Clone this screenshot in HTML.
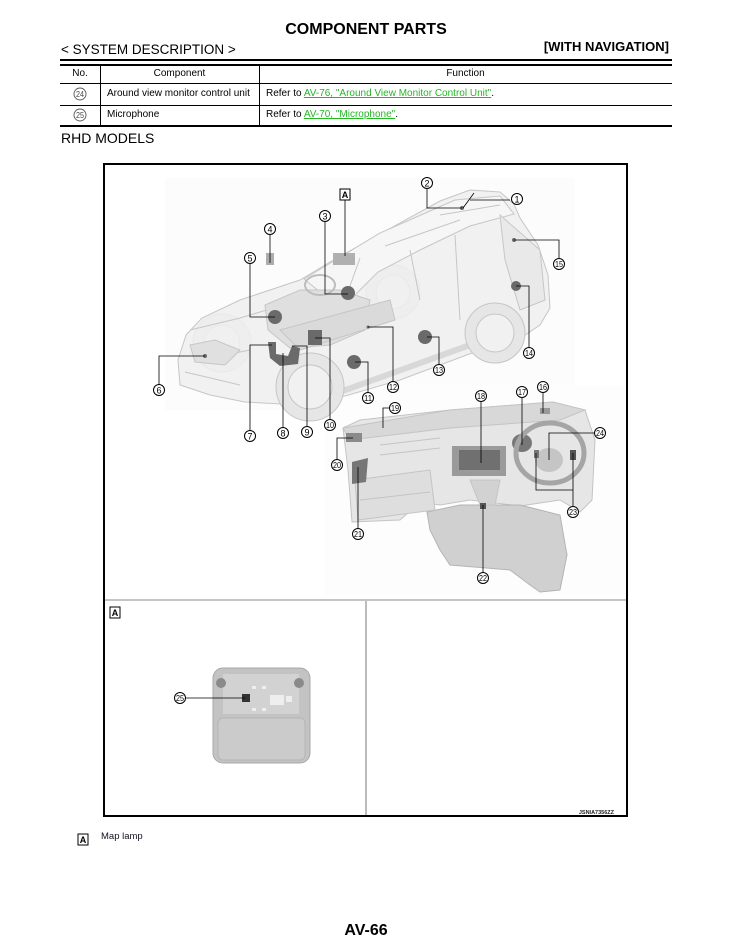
<!DOCTYPE html>
<html><head><meta charset="utf-8">
<style>
*{margin:0;padding:0;box-sizing:border-box}
body{width:732px;height:950px;background:#fff;position:relative;overflow:hidden;font-family:"Liberation Sans",Arial,sans-serif;color:#000}
.t{position:absolute;white-space:nowrap}
.ln{position:absolute;background:#000}
a{color:#22b822;text-decoration:underline}
</style></head><body>

<div class="t" style="left:0;width:732px;top:20px;text-align:center;font-weight:bold;font-size:16px;line-height:20px">COMPONENT PARTS</div>
<div class="t" style="left:61px;top:42px;font-size:13.5px;line-height:16px">&lt; SYSTEM DESCRIPTION &gt;</div>
<div class="t" style="right:63px;top:39px;font-size:13px;font-weight:bold;line-height:16px">[WITH NAVIGATION]</div>

<div class="ln" style="left:60px;top:59px;width:612px;height:2px"></div>
<div class="ln" style="left:60px;top:64px;width:612px;height:2px"></div>
<div class="ln" style="left:60px;top:83px;width:612px;height:1px"></div>
<div class="ln" style="left:60px;top:105px;width:612px;height:1px"></div>
<div class="ln" style="left:60px;top:125px;width:612px;height:2px"></div>
<div class="ln" style="left:100px;top:66px;width:1px;height:59px"></div>
<div class="ln" style="left:259px;top:66px;width:1px;height:59px"></div>

<div class="t" style="left:60px;width:40px;top:68px;text-align:center;font-size:10px;line-height:12px">No.</div>
<div class="t" style="left:100px;width:159px;top:68px;text-align:center;font-size:10px;line-height:12px">Component</div>
<div class="t" style="left:259px;width:413px;top:68px;text-align:center;font-size:10px;line-height:12px">Function</div>

<div class="t" style="left:107px;top:88px;font-size:10px;line-height:12px">Around view monitor control unit</div>
<div class="t" style="left:266px;top:88px;font-size:10px;line-height:12px">Refer to <a>AV-76, "Around View Monitor Control Unit"</a>.</div>
<div class="t" style="left:107px;top:109px;font-size:10px;line-height:12px">Microphone</div>
<div class="t" style="left:266px;top:109px;font-size:10px;line-height:12px">Refer to <a>AV-70, "Microphone"</a>.</div>

<svg style="position:absolute;left:73px;top:87px" width="14" height="14"><circle cx="7" cy="7" r="6" fill="none" stroke="#555" stroke-width="0.9"/><text x="7" y="10" font-size="8" text-anchor="middle" font-family="Liberation Sans Narrow,Liberation Sans,sans-serif" fill="#444" textLength="8" lengthAdjust="spacingAndGlyphs">24</text></svg>
<svg style="position:absolute;left:73px;top:108px" width="14" height="14"><circle cx="7" cy="7" r="6" fill="none" stroke="#555" stroke-width="0.9"/><text x="7" y="10" font-size="8" text-anchor="middle" font-family="Liberation Sans Narrow,Liberation Sans,sans-serif" fill="#444" textLength="8" lengthAdjust="spacingAndGlyphs">25</text></svg>

<div class="t" style="left:61px;top:130px;font-size:14px;line-height:17px">RHD MODELS</div>

<svg style="position:absolute;left:0;top:0" width="732" height="950" viewBox="0 0 732 950">
<rect x="104" y="164" width="523" height="652" fill="#fff" stroke="#000" stroke-width="2"/>
<line x1="105" y1="600" x2="626" y2="600" stroke="#8a8a8a" stroke-width="1"/>
<line x1="366" y1="601" x2="366" y2="815" stroke="#aaa" stroke-width="1.6"/>

<rect x="165" y="178" width="410" height="232" fill="#fcfcfc"/>
<rect x="325" y="385" width="300" height="210" fill="#fdfdfd"/>

<!-- CAR -->
<g stroke="#c6c6c6" stroke-width="1">
<circle cx="393" cy="292" r="27" fill="#ececec"/>
<circle cx="393" cy="292" r="17" fill="#f4f4f4"/>
<circle cx="222" cy="343" r="29" fill="#eaeaea"/>
<circle cx="222" cy="343" r="18" fill="#f3f3f3"/>
<path d="M180,385 L178,360 L186,335 L202,318 L240,300 L300,280 L330,262 L380,234 L440,201 L470,190 L500,192 L514,204 L520,218 L538,245 L548,275 L550,308 L540,325 L525,335 L480,350 L440,365 L400,380 L345,396 L300,405 L245,402 L210,395 Z" fill="#efefef" fill-opacity="0.85"/>
<path d="M304,279 L380,233 L455,200 L500,196 L514,214 L470,226 L420,250 L378,272 L350,300 L330,300 Z" fill="#f6f6f6"/>
<path d="M345,300 L360,258 M410,250 L420,300 M455,235 L460,320 M440,215 L500,205 M385,246 L460,220" fill="none"/>
<path d="M500,215 L540,250 L545,300 L520,310 L505,260 Z" fill="#e9e9e9"/>
<path d="M340,392 L470,345" stroke="#d8d8d8" stroke-width="6" fill="none"/>
<path d="M190,330 L240,318 L300,300 M200,360 L250,350 M185,372 L240,385" fill="none"/>
<circle cx="310" cy="387" r="34" fill="#e6e6e6"/>
<circle cx="310" cy="387" r="22" fill="#f1f1f1"/>
<circle cx="495" cy="333" r="30" fill="#e6e6e6"/>
<circle cx="495" cy="333" r="19" fill="#f1f1f1"/>
<path d="M265,305 L300,290 L340,290 L370,300 L365,330 L330,345 L290,348 L268,330 Z" fill="#dfdfdf"/>
<path d="M280,330 L390,300 L395,320 L300,350 Z" fill="#dadada"/>
<ellipse cx="320" cy="285" rx="15" ry="10" fill="none" stroke="#bdbdbd" stroke-width="2"/>
<path d="M190,345 L215,340 L240,350 L225,365 L195,362 Z" fill="#e0e0e0"/>
</g>
<g fill="#6a6a6a">
<rect x="333" y="253" width="22" height="12" fill="#b0b0b0"/>
<circle cx="348" cy="293" r="7"/>
<circle cx="275" cy="317" r="7"/>
<circle cx="354" cy="362" r="7"/>
<circle cx="425" cy="337" r="7"/>
<circle cx="516" cy="286" r="5"/>
<rect x="266" y="253" width="8" height="12" fill="#adadad"/>
<path d="M268,342 L276,342 L276,354 L288,356 L292,346 L300,348 L298,364 L280,366 L270,358 Z"/>
<rect x="308" y="330" width="14" height="15"/>
<circle cx="514" cy="240" r="2"/>
<circle cx="462" cy="208" r="2"/>
<circle cx="205" cy="356" r="2"/>
<circle cx="368" cy="327" r="1.5"/>
</g>

<!-- DASHBOARD -->
<g stroke="#c4c4c4" stroke-width="1">
<path d="M343,428 L360,420 L450,410 L553,402 L585,410 L595,440 L592,500 L580,512 L560,500 L520,506 L470,500 L440,505 L420,502 L400,520 L352,522 L348,470 Z" fill="#e6e6e6"/>
<path d="M343,428 L450,410 L553,402 L585,410 L560,420 L450,428 L350,440 Z" fill="#d8d8d8"/>
<path d="M427,512 L460,505 L520,505 L560,515 L567,555 L560,590 L540,592 L530,585 L510,570 L450,565 L440,550 L430,530 Z" fill="#d0d0d0" stroke="#b4b4b4"/>
<path d="M355,480 L430,470 L435,510 L358,520 Z" fill="#dedede"/>
<path d="M470,480 L480,505 L495,505 L500,480 Z" fill="#d2d2d2"/>
<path d="M380,445 L440,438 M380,455 L440,448 M360,500 L430,492" fill="none"/>
</g>
<rect x="452" y="446" width="54" height="30" fill="#9a9a9a"/>
<rect x="459" y="450" width="41" height="20" fill="#707070"/>
<ellipse cx="522" cy="443" rx="10" ry="9" fill="#777"/>
<ellipse cx="550" cy="453" rx="34" ry="30" fill="none" stroke="#a5a5a5" stroke-width="5"/>
<ellipse cx="549" cy="460" rx="14" ry="12" fill="#c5c5c5"/>
<rect x="570" y="450" width="6" height="10" fill="#555"/>
<rect x="534" y="450" width="5" height="8" fill="#777"/>
<rect x="346" y="433" width="16" height="9" fill="#8a8a8a"/>
<rect x="540" y="408" width="10" height="6" fill="#999"/>
<path d="M352,462 L368,458 L366,482 L352,484 Z" fill="#777"/>
<rect x="480" y="503" width="6" height="6" fill="#555"/>

<!-- MAP LAMP -->
<rect x="213" y="668" width="97" height="95" rx="10" fill="#c3c3c3" stroke="#a8a8a8"/>
<rect x="223" y="674" width="76" height="40" fill="#d2d2d2"/>
<rect x="218" y="718" width="87" height="42" rx="5" fill="#cbcbcb" stroke="#b5b5b5"/>
<circle cx="221" cy="683" r="5" fill="#8a8a8a"/>
<circle cx="299" cy="683" r="5" fill="#8a8a8a"/>
<rect x="242" y="694" width="8" height="8" fill="#333"/>
<g fill="#eee"><rect x="252" y="686" width="4" height="3"/><rect x="262" y="686" width="4" height="3"/><rect x="252" y="708" width="4" height="3"/><rect x="262" y="708" width="4" height="3"/><rect x="270" y="695" width="14" height="10"/><rect x="286" y="696" width="6" height="6"/></g>

<g stroke="#000" stroke-width="0.8" fill="none">
<path d="M510,200 H470 M474,193 L463,208"/>
<path d="M427,189 V208 H462"/>
<path d="M345,200 V256"/>
<path d="M325,222 V294 H348"/>
<path d="M270,235 V263"/>
<path d="M250,264 V317 H275"/>
<path d="M159,384 V356 H205"/>
<path d="M250,430 V345 H272"/>
<path d="M283,427 V353"/>
<path d="M307,426 V346 H292"/>
<path d="M330,419 V338 H315"/>
<path d="M368,392 V362 H355"/>
<path d="M393,381 V327 H368"/>
<path d="M439,364 V337 H427"/>
<path d="M529,347 V286 H516"/>
<path d="M559,258 V240 H514"/>
<path d="M543,393 V413"/>
<path d="M522,398 V445"/>
<path d="M481,402 V463"/>
<path d="M389,408 H383 V428"/>
<path d="M337,459 V438 H353"/>
<path d="M358,528 V467"/>
<path d="M483,572 V505"/>
<path d="M573,506 V453 M573,490 H536 V453"/>
<path d="M594,433 H549 V460"/>
<path d="M186,698 H245"/>
</g>

<g font-family="Liberation Sans Narrow,Liberation Sans,sans-serif" font-size="9" text-anchor="middle">
<g stroke="#000" stroke-width="1" fill="#fff">
<circle cx="517" cy="199" r="5.5"/><circle cx="427" cy="183" r="5.5"/><circle cx="325" cy="216" r="5.5"/>
<circle cx="270" cy="229" r="5.5"/><circle cx="250" cy="258" r="5.5"/><circle cx="159" cy="390" r="5.5"/>
<circle cx="250" cy="436" r="5.5"/><circle cx="283" cy="433" r="5.5"/><circle cx="307" cy="432" r="5.5"/>
<circle cx="330" cy="425" r="5.5"/><circle cx="368" cy="398" r="5.5"/><circle cx="393" cy="387" r="5.5"/>
<circle cx="439" cy="370" r="5.5"/><circle cx="529" cy="353" r="5.5"/><circle cx="559" cy="264" r="5.5"/>
<circle cx="543" cy="387" r="5.5"/><circle cx="522" cy="392" r="5.5"/><circle cx="481" cy="396" r="5.5"/>
<circle cx="395" cy="408" r="5.5"/><circle cx="337" cy="465" r="5.5"/><circle cx="358" cy="534" r="5.5"/>
<circle cx="483" cy="578" r="5.5"/><circle cx="573" cy="512" r="5.5"/><circle cx="600" cy="433" r="5.5"/>
<circle cx="180" cy="698" r="5.5"/>
</g>
<text x="517" y="202.5">1</text><text x="427" y="186.5">2</text><text x="325" y="219.5">3</text>
<text x="270" y="232.5">4</text><text x="250" y="261.5">5</text><text x="159" y="393.5">6</text>
<text x="250" y="439.5">7</text><text x="283" y="436.5">8</text><text x="307" y="435.5">9</text>
<g font-size="8">
<text x="330" y="428" textLength="8" lengthAdjust="spacingAndGlyphs">10</text>
<text x="368" y="401" textLength="8" lengthAdjust="spacingAndGlyphs">11</text>
<text x="393" y="390" textLength="8" lengthAdjust="spacingAndGlyphs">12</text>
<text x="439" y="373" textLength="8" lengthAdjust="spacingAndGlyphs">13</text>
<text x="529" y="356" textLength="8" lengthAdjust="spacingAndGlyphs">14</text>
<text x="559" y="267" textLength="8" lengthAdjust="spacingAndGlyphs">15</text>
<text x="543" y="390" textLength="8" lengthAdjust="spacingAndGlyphs">16</text>
<text x="522" y="395" textLength="8" lengthAdjust="spacingAndGlyphs">17</text>
<text x="481" y="399" textLength="8" lengthAdjust="spacingAndGlyphs">18</text>
<text x="395" y="411" textLength="8" lengthAdjust="spacingAndGlyphs">19</text>
<text x="337" y="468" textLength="8" lengthAdjust="spacingAndGlyphs">20</text>
<text x="358" y="537" textLength="8" lengthAdjust="spacingAndGlyphs">21</text>
<text x="483" y="581" textLength="8" lengthAdjust="spacingAndGlyphs">22</text>
<text x="573" y="515" textLength="8" lengthAdjust="spacingAndGlyphs">23</text>
<text x="600" y="436" textLength="8" lengthAdjust="spacingAndGlyphs">24</text>
<text x="180" y="701" textLength="8" lengthAdjust="spacingAndGlyphs">25</text>
</g>
</g>

<g font-family="Liberation Sans,sans-serif" font-weight="bold" font-size="9" text-anchor="middle">
<rect x="340" y="189" width="10" height="11" fill="#fff" stroke="#000" stroke-width="1"/>
<text x="345" y="198">A</text>
<rect x="110" y="607" width="10" height="11" fill="#fff" stroke="#000" stroke-width="1"/>
<text x="115" y="616">A</text>
<rect x="78" y="834" width="10" height="11" fill="#fff" stroke="#000" stroke-width="1"/>
<text x="83" y="843">A</text>
</g>
<text x="614" y="814" font-family="Liberation Sans,sans-serif" font-weight="bold" font-size="5.5" text-anchor="end" fill="#222">JSNIA7356ZZ</text>
</svg>

<div class="t" style="left:101px;top:831px;font-size:9.5px;line-height:12px;color:#112">Map lamp</div>
<div class="t" style="left:0;width:732px;top:921px;text-align:center;font-weight:bold;font-size:16px;line-height:20px">AV-66</div>
</body></html>
